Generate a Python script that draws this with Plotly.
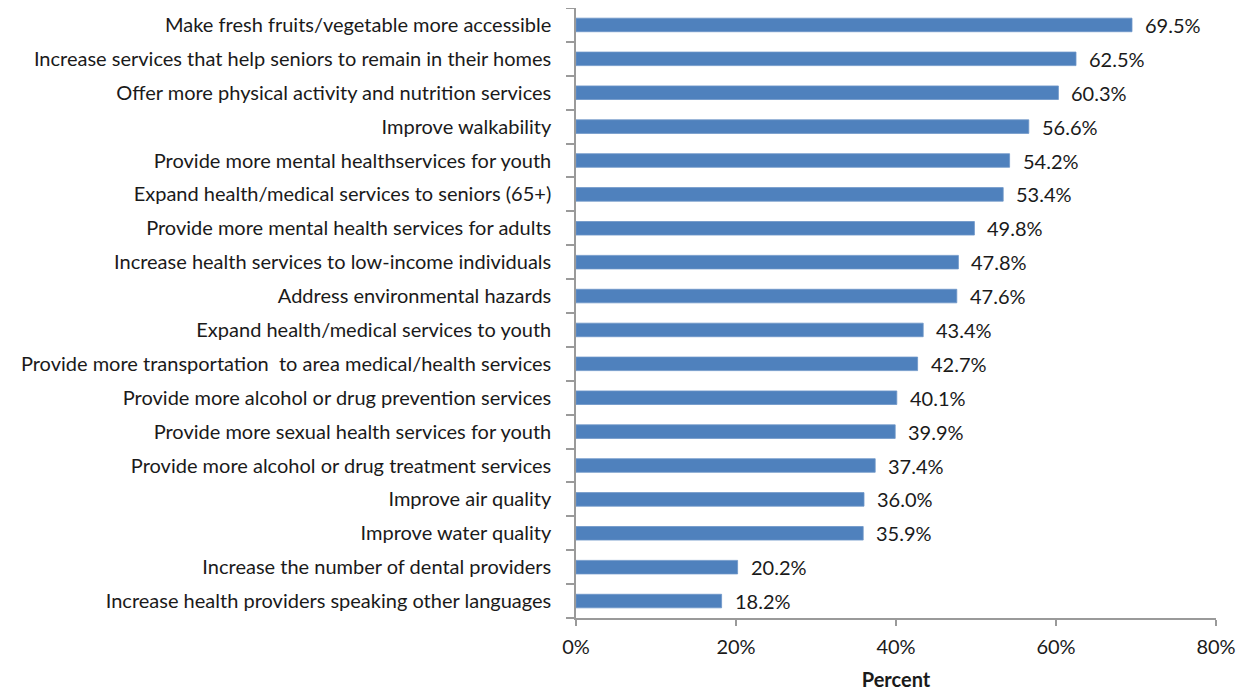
import plotly.graph_objects as go

# categories listed top to bottom
categories = [
    "Make fresh fruits/vegetable more accessible",
    "Increase services that help seniors to remain in their homes",
    "Offer more physical activity and nutrition services",
    "Improve walkability",
    "Provide more mental healthservices for youth",
    "Expand health/medical services to seniors (65+)",
    "Provide more mental health services for adults",
    "Increase health services to low-income individuals",
    "Address environmental hazards",
    "Expand health/medical services to youth",
    "Provide more transportation  to area medical/health services",
    "Provide more alcohol or drug prevention services",
    "Provide more sexual health services for youth",
    "Provide more alcohol or drug treatment services",
    "Improve air quality",
    "Improve water quality",
    "Increase the number of dental providers",
    "Increase health providers speaking other languages",
]
values = [69.5, 62.5, 60.3, 56.6, 54.2, 53.4, 49.8, 47.8, 47.6, 43.4,
          42.7, 40.1, 39.9, 37.4, 36.0, 35.9, 20.2, 18.2]
tick_vals = [0, 20, 40, 60, 80]
tick_text = ["0%", "20%", "40%", "60%", "80%"]

cats = categories[::-1]
vals = values[::-1]

FONT = "Lato, 'Open Sans', sans-serif"
AXIS = "#9a9a9a"
TXT = "#1a1a1a"

fig = go.Figure()
fig.add_trace(go.Bar(
    x=vals, y=cats,
    orientation="h",
    marker=dict(color="#4f81bd", line=dict(color="#6d96c8", width=0.8)),
    width=0.4,
    hoverinfo="x+y",
))

# data labels, offset a little right of the bar ends
for c, v in zip(cats, vals):
    fig.add_annotation(
        x=v, y=c, text=f"{v:.1f}%",
        showarrow=False, xanchor="left", xshift=11,
        font=dict(size=20, color=TXT, family=FONT),
    )

# page body has an 8px default margin, so the figure is sized down a bit
fig.update_layout(
    width=1237, height=684,
    paper_bgcolor="white", plot_bgcolor="white",
    margin=dict(l=568, r=29, t=0, b=74),
    font=dict(family=FONT, size=20, color=TXT),
    showlegend=False,
    bargap=0.6,
)
fig.update_xaxes(
    range=[0, 80], tickvals=tick_vals, ticktext=tick_text,
    showgrid=False, zeroline=False, automargin=False,
    showline=True, linecolor=AXIS, linewidth=1.5,
    ticks="outside", ticklen=6, tickcolor=AXIS, tickwidth=1.5,
    ticklabelstandoff=4,
    title=dict(text="<b>Percent</b>", standoff=16,
               font=dict(size=20, color=TXT)),
)
fig.update_yaxes(
    type="category", categoryorder="array", categoryarray=cats,
    showgrid=False, zeroline=False, automargin=False,
    showline=True, linecolor=AXIS, linewidth=1.5,
    ticks="outside", ticklen=8, tickcolor=AXIS, tickwidth=1.5,
    tickson="boundaries", ticklabelstandoff=19,
    range=[-0.5, len(cats) - 0.5],
)

fig.write_html("out.html")
